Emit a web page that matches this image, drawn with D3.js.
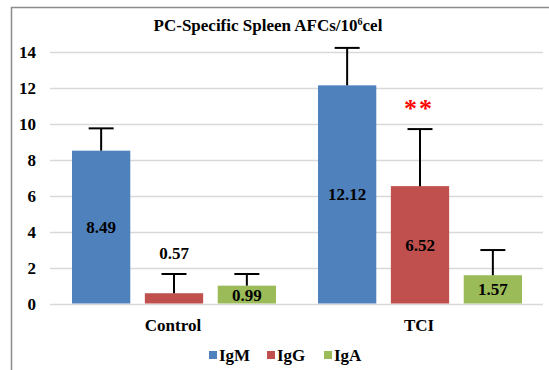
<!DOCTYPE html>
<html><head><meta charset="utf-8">
<script src="https://cdn.jsdelivr.net/npm/d3@7"></script>
<style>html,body{margin:0;padding:0;background:#fff;}svg{display:block;}</style>
</head><body>
<svg id="chart" width="549" height="370"></svg>
<script>
const categories = ["Control", "TCI"];
const seriesNames = ["IgM", "IgG", "IgA"];
const seriesColors = ["#4F81BD", "#C0504D", "#9BBB59"];
const igmValues = [8.49, 12.12];
const iggValues = [0.57, 6.52];
const igaValues = [0.99, 1.57];
const igmErrTop = [9.73, 14.2];
const iggErrTop = [1.64, 9.69];
const igaErrTop = [1.64, 2.97];
const valueLabels = [["8.49", "0.57", "0.99"], ["12.12", "6.52", "1.57"]];
const yTicks = [0, 2, 4, 6, 8, 10, 12, 14];
const title = "PC-Specific Spleen AFCs/10";

const values = [igmValues, iggValues, igaValues];
const errTops = [igmErrTop, iggErrTop, igaErrTop];

const svg = d3.select("#chart");

// frame
svg.append("rect").attr("x", 11.5).attr("y", 7.5).attr("width", 560).attr("height", 400)
  .attr("fill", "none").attr("stroke", "#8c8c8c").attr("stroke-width", 1.5);

const y = d3.scaleLinear().domain([0, 14]).range([303.5, 51.5]);
const x0 = d3.scaleBand().domain(categories).range([51, 543]).padding(0);
const x1 = d3.scaleBand().domain(seriesNames).range([21, 225]).paddingInner(0.2).paddingOuter(0);

// gridlines
svg.append("g").selectAll("line").data(yTicks).join("line")
  .attr("x1", 50).attr("x2", 543)
  .attr("y1", d => Math.round(y(d)) + 0.5).attr("y2", d => Math.round(y(d)) + 0.5)
  .attr("stroke", "#d9d9d9").attr("stroke-width", 1.5);

// y axis labels
const yAxis = d3.axisLeft(y).tickValues(yTicks).tickSize(0).tickPadding(0);
const ya = svg.append("g").attr("transform", "translate(36,0)").call(yAxis);
ya.select(".domain").remove();
ya.selectAll("text").style("font-size", "17px").attr("fill", "#000").attr("dy", "0.35em");

// bars
const data = [];
categories.forEach((c, ci) => {
  seriesNames.forEach((s, si) => {
    data.push({c, ci, s, si, v: values[si][ci], e: errTops[si][ci], label: valueLabels[ci][si]});
  });
});

const g = svg.append("g");
g.selectAll("rect.bar").data(data).join("rect").attr("class", "bar")
  .attr("x", d => x0(d.c) + x1(d.s))
  .attr("width", x1.bandwidth())
  .attr("y", d => y(d.v))
  .attr("height", d => y(0) - y(d.v))
  .attr("fill", d => seriesColors[d.si]);

// error bars
const capW = 25;
const eb = g.selectAll("g.err").data(data).join("g").attr("class", "err");
eb.append("line")
  .attr("x1", d => x0(d.c) + x1(d.s) + x1.bandwidth() / 2)
  .attr("x2", d => x0(d.c) + x1(d.s) + x1.bandwidth() / 2)
  .attr("y1", d => y(d.v)).attr("y2", d => y(d.e))
  .attr("stroke", "#000").attr("stroke-width", 2);
eb.append("line")
  .attr("x1", d => x0(d.c) + x1(d.s) + x1.bandwidth() / 2 - capW / 2)
  .attr("x2", d => x0(d.c) + x1(d.s) + x1.bandwidth() / 2 + capW / 2)
  .attr("y1", d => y(d.e)).attr("y2", d => y(d.e))
  .attr("stroke", "#000").attr("stroke-width", 2);

// value labels
g.selectAll("text.val").data(data).join("text").attr("class", "val")
  .attr("x", d => x0(d.c) + x1(d.s) + x1.bandwidth() / 2)
  .attr("y", d => (d.ci === 0 && d.si === 1) ? y(2.8) : (y(d.v) + y(0)) / 2)
  .attr("dy", "0.35em")
  .attr("text-anchor", "middle")
  .style("font-size", "17px")
  .attr("fill", "#000")
  .text(d => d.label);

// significance
svg.append("text")
  .attr("x", x0("TCI") + x1("IgG") + x1.bandwidth() / 2 - 1)
  .attr("y", y(11.2) + 15)
  .attr("text-anchor", "middle")
  .style("font-size", "26px")
  .attr("letter-spacing", 2)
  .attr("fill", "#ff0000")
  .text("**");

// category labels
svg.append("g").selectAll("text").data(categories).join("text")
  .attr("x", d => x0(d) + x0.bandwidth() / 2 - 1)
  .attr("y", 325).attr("dy", "0.35em")
  .attr("text-anchor", "middle")
  .style("font-size", "17px")
  .text(d => d);

// title
const t = svg.append("text").attr("x", 268).attr("y", 31)
  .attr("text-anchor", "middle")
  .style("font-size", "17px");
t.append("tspan").text(title);
t.append("tspan").style("font-size", "10px").attr("dy", -6).text("6");
t.append("tspan").attr("dy", 6).text("cel");

// legend
const legendX = [209, 267, 324];
const lg = svg.append("g").selectAll("g").data(seriesNames).join("g")
  .attr("transform", (d, i) => `translate(${legendX[i]},355)`);
lg.append("rect").attr("x", 0).attr("y", -4).attr("width", 8).attr("height", 8)
  .attr("fill", (d, i) => seriesColors[i]);
lg.append("text").attr("x", 10).attr("y", 0).attr("dy", "0.35em")
  .style("font-size", "17px")
  .text(d => d);

// font for all texts
svg.selectAll("text")
  .style("font-family", '"Liberation Serif"')
  .style("font-weight", "bold");
</script>
</body></html>
